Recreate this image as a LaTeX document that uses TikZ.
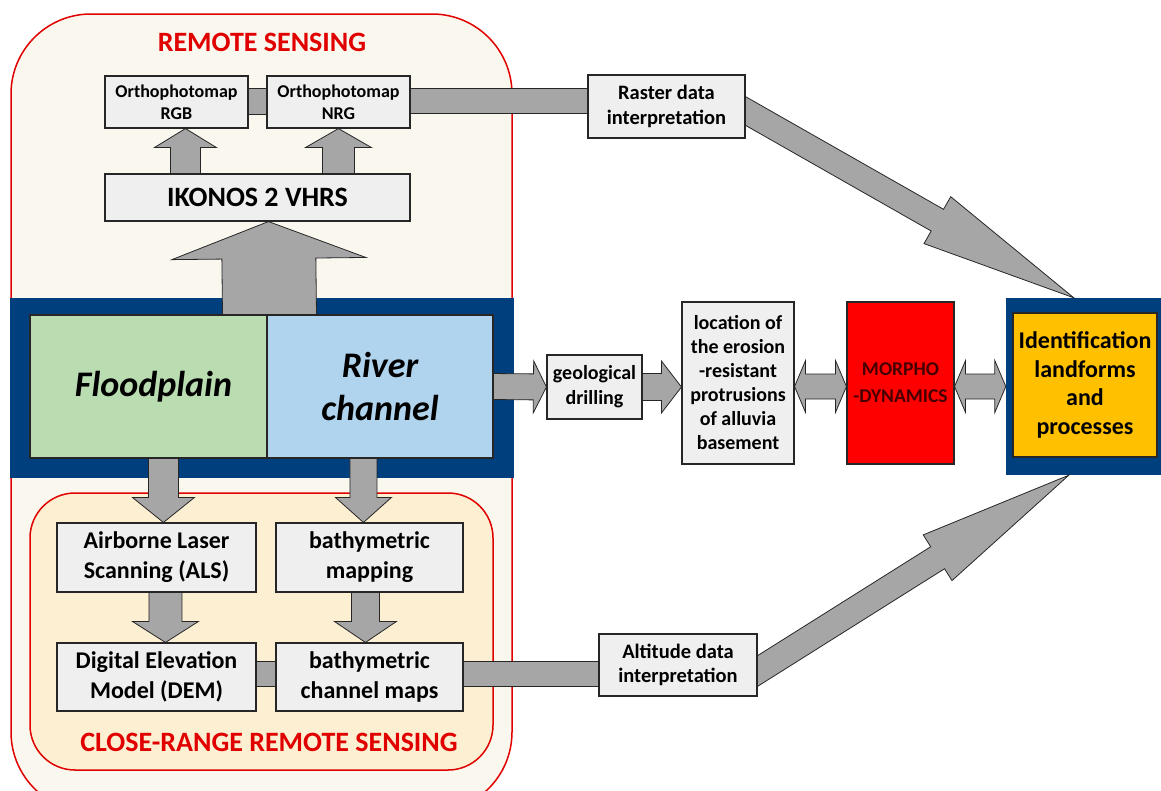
\documentclass[tikz,border=0pt]{standalone}
\usepackage{fontspec}
\setmainfont{Carlito}
\usetikzlibrary{calc}
\definecolor{cream}{HTML}{FAF8EE}
\definecolor{peach}{HTML}{FDEFD2}
\definecolor{rsred}{HTML}{E00000}
\definecolor{navy}{HTML}{003F7D}
\definecolor{boxgray}{HTML}{EFEFEF}
\definecolor{boxline}{HTML}{262626}
\definecolor{arrgray}{HTML}{A6A6A6}
\definecolor{fpgreen}{HTML}{B9DDB1}
\definecolor{rcblue}{HTML}{B0D3EE}
\definecolor{morred}{HTML}{FF0000}
\definecolor{mortext}{HTML}{450000}
\definecolor{idorange}{HTML}{FFC000}
\pgfdeclarelayer{bg}\pgfdeclarelayer{arr}\pgfsetlayers{bg,arr,main}
\newcommand\fsz[2]{\fontsize{#1}{#2}\selectfont}
\tikzset{
 panel/.style={draw=rsred, line width=1.5pt, inner sep=0pt, rectangle},
 box/.style={draw=boxline, fill=boxgray, line width=1.1pt, align=center, inner sep=0pt, font=\bfseries},
 fat/.style={draw=boxline, fill=arrgray, line width=0.8pt, line join=miter},
 title/.style={text=rsred, inner sep=0pt, font=\bfseries\fsz{28}{32}}
}
% #1 from, #2 to, #3 shaft half width, #4 head half width, #5 head length
\newcommand\fatarrow[5]{%
 \coordinate (fa-a) at (#1);
 \coordinate (fa-b) at (#2);
 \coordinate (fa-h) at ($(fa-b)!#5pt!(fa-a)$);
 \draw[fat] ($(fa-a)!#3pt!90:(fa-b)$) -- ($(fa-h)!#3pt!90:(fa-b)$) -- ($(fa-h)!#4pt!90:(fa-b)$) -- (fa-b)
   -- ($(fa-h)!#4pt!-90:(fa-b)$) -- ($(fa-h)!#3pt!-90:(fa-b)$) -- ($(fa-a)!#3pt!-90:(fa-b)$) -- cycle;
}
\newcommand\dblarrow[5]{%
 \coordinate (da-a) at (#1);
 \coordinate (da-b) at (#2);
 \coordinate (da-h) at ($(da-a)!#5pt!(da-b)$);
 \coordinate (da-k) at ($(da-b)!#5pt!(da-a)$);
 \draw[fat] (da-a) -- ($(da-h)!#4pt!90:(da-b)$) -- ($(da-h)!#3pt!90:(da-b)$) -- ($(da-k)!#3pt!90:(da-b)$)
   -- ($(da-k)!#4pt!90:(da-b)$) -- (da-b) -- ($(da-k)!#4pt!-90:(da-b)$) -- ($(da-k)!#3pt!-90:(da-b)$)
   -- ($(da-h)!#3pt!-90:(da-b)$) -- ($(da-h)!#4pt!-90:(da-b)$) -- cycle;
}
\newcommand\fatbar[3]{%
 \coordinate (fb-a) at (#1);
 \coordinate (fb-b) at (#2);
 \draw[fat] ($(fb-a)!#3pt!90:(fb-b)$) -- ($(fb-b)!#3pt!-90:(fb-a)$) -- ($(fb-b)!#3pt!90:(fb-a)$) -- ($(fb-a)!#3pt!-90:(fb-b)$) -- cycle;
}
\begin{document}
\begin{tikzpicture}[x=1pt,y=-1pt]
\useasboundingbox (0,0) rectangle (1161,790);
\clip (0,0) rectangle (1161,790);
\begin{pgfonlayer}{bg}
\node[panel, fill=cream, rounded corners=80pt, minimum width=501pt, minimum height=798pt] (rs) at (261.5,413) {};
\node[fill=navy, inner sep=0pt, minimum width=503.5pt, minimum height=180pt] (bframe) at (261.75,388) {};
\node[panel, fill=peach, rounded corners=45pt, minimum width=463pt, minimum height=277pt] (crs) at (261.5,631.5) {};
\node[fill=navy, inner sep=0pt, minimum width=164pt, minimum height=177pt] (idframe) at (1088,386.5) {};
\end{pgfonlayer}

\node[title] (rstitle) at (262,42) {REMOTE SENSING};
\node[title] (crstitle) at (269,742) {CLOSE-RANGE REMOTE SENSING};

\node[box, minimum width=143pt, minimum height=52pt, font=\bfseries\fsz{18}{22}] (rgb) at (176.5,102) {Orthophotomap\\RGB};
\node[box, minimum width=143pt, minimum height=52pt, font=\bfseries\fsz{18}{22}] (nrg) at (338.5,102) {Orthophotomap\\NRG};
\node[box, minimum width=305pt, minimum height=47pt, font=\bfseries\fsz{28}{32}] (ik) at (257.5,197.5) {IKONOS 2 VHRS};
\node[box, fill=fpgreen, minimum width=237pt, minimum height=143pt, font=\bfseries\itshape\fsz{36}{43}] (fp) at (148.5,386.5) {\hspace{10pt}Floodplain};
\node[box, fill=rcblue, minimum width=226pt, minimum height=143pt, font=\bfseries\itshape\fsz{36}{43}] (rc) at (380,386.5) {River\\channel};
\node[box, minimum width=199pt, minimum height=69pt, font=\bfseries\fsz{24}{30}] (als) at (156.5,557.5) {Airborne Laser\\Scanning (ALS)};
\node[box, minimum width=187pt, minimum height=69pt, font=\bfseries\fsz{24}{30}] (bm) at (369.5,557.5) {bathymetric\\mapping};
\node[box, minimum width=199pt, minimum height=68pt, font=\bfseries\fsz{24}{30}] (dem) at (156.5,677) {Digital Elevation\\Model (DEM)};
\node[box, minimum width=187pt, minimum height=68pt, font=\bfseries\fsz{24}{30}] (bcm) at (369.5,677) {bathymetric\\channel maps};
\node[box, minimum width=157pt, minimum height=63pt, font=\bfseries\fsz{20.5}{24.5}] (raster) at (666.5,106.5) {Raster data\\interpretation};
\node[box, minimum width=158pt, minimum height=62pt, font=\bfseries\fsz{20.5}{24.5}] (alt) at (678,665) {Altitude data\\interpretation};
\node[box, minimum width=95pt, minimum height=64pt, font=\bfseries\fsz{20}{25}] (geo) at (594.5,387) {geological\\drilling};
\node[box, minimum width=112pt, minimum height=162pt, font=\bfseries\fsz{20}{24}] (loc) at (738,383) {location of\\the erosion\\-resistant\\protrusions\\of alluvia\\basement};
\node[box, fill=morred, text=mortext, minimum width=107pt, minimum height=162pt, font=\bfseries\fsz{19.5}{27}] (morpho) at (900.5,383) {MORPHO\\-DYNAMICS};
\node[box, fill=idorange, minimum width=144pt, minimum height=144pt, font=\bfseries\fsz{24}{28.5}] (id) at (1085,385) {Identification\\landforms\\and\\processes};

\begin{pgfonlayer}{arr}
% vertical arrows
\fatarrow{$(ik.north west)+(81,4)$}{$(rgb.south west)+(81,0)$}{15}{31}{19}
\fatarrow{$(ik.north west)+(234,4)$}{$(nrg.south west)+(72,0)$}{16}{33}{19}
\fatarrow{$(fp.north east)+(2,5)$}{$(ik.south west)+(164,0)$}{47}{97}{37}
\fatarrow{$(fp.south west)+(134,-4)$}{$(als.north west)+(107,0)$}{15}{31}{25}
\fatarrow{$(rc.south west)+(97,-4)$}{$(bm.north west)+(88,0)$}{13.5}{28}{25}
\fatarrow{$(als.south west)+(109,-4)$}{$(dem.north west)+(109,0)$}{16.5}{33}{21}
\fatarrow{$(bm.south west)+(90,-4)$}{$(bcm.north west)+(90,0)$}{14}{31}{21}
% horizontal arrows
\fatarrow{$(rc.east)+(-4,0)$}{geo.west}{13}{26}{13}
\fatarrow{$(geo.east)+(-4,0)$}{loc.west |- geo.east}{13.5}{26}{20}
\dblarrow{$(loc.east)+(0,3.5)$}{$(morpho.west)+(0,3.5)$}{12.5}{26}{11}
\dblarrow{$(morpho.east)+(0,3.5)$}{idframe.west}{12.5}{26}{11}
% bars
\fatbar{$(rgb.east)+(-4,-1)$}{$(nrg.west)+(4,-1)$}{13}
\fatbar{$(nrg.east)+(-4,-1.5)$}{$(raster.west)+(4,-6)$}{12.5}
\fatbar{$(dem.east)+(-4,-3.5)$}{$(bcm.west)+(4,-3.5)$}{12.5}
\fatbar{$(bcm.east)+(-4,-3.5)$}{$(alt.west)+(4,8.5)$}{12.5}
% diagonal arrows
\coordinate (rt) at ($(raster.east)+(0,4.5)$);
\coordinate (rtip) at ($(idframe.north west)+(68,0)$);
\fatarrow{$(rt)!-14pt!(rtip)$}{rtip}{12.5}{27}{157}
\coordinate (at) at ($(alt.east)+(0,6)$);
\coordinate (atip) at ($(idframe.south west)+(63,0)$);
\fatarrow{$(at)!-14pt!(atip)$}{atip}{13}{27}{155}
\end{pgfonlayer}
\end{tikzpicture}
\end{document}
